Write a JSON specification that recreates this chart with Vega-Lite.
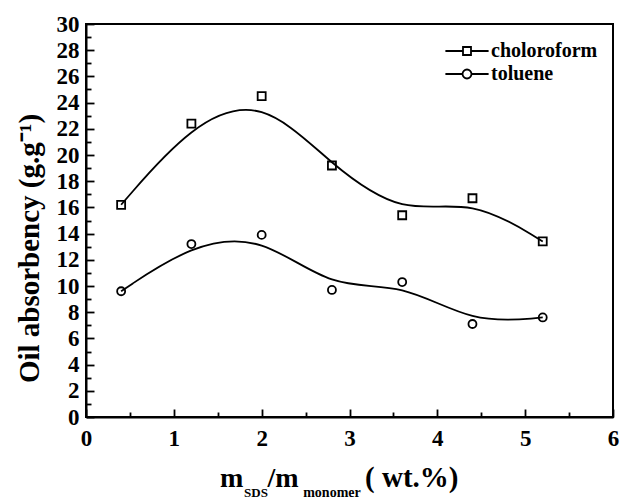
{
  "$schema": "https://vega.github.io/schema/vega-lite/v6.json",
  "width": 527,
  "height": 393,
  "autosize": "none",
  "padding": {"left": 86, "top": 24, "right": 7, "bottom": 83},
  "background": "white",
  "config": {
    "view": {"stroke": "black", "strokeWidth": 2},
    "font": "Liberation Serif",
    "axis": {
      "grid": false,
      "domainColor": "black",
      "domainWidth": 2,
      "tickColor": "black",
      "tickWidth": 1.8,
      "labelFont": "Liberation Serif",
      "labelFontWeight": "bold",
      "labelFontSize": 23,
      "labelColor": "black",
      "labelFlush": false,
      "titleFont": "Liberation Serif",
      "titleFontWeight": "bold",
      "titleColor": "black"
    }
  },
  "datasets": {
    "oil": [
      {"x": 0.4, "y": 16.2, "solvent": "choloroform"},
      {"x": 1.2, "y": 22.4, "solvent": "choloroform"},
      {"x": 2.0, "y": 24.5, "solvent": "choloroform"},
      {"x": 2.8, "y": 19.2, "solvent": "choloroform"},
      {"x": 3.6, "y": 15.4, "solvent": "choloroform"},
      {"x": 4.4, "y": 16.7, "solvent": "choloroform"},
      {"x": 5.2, "y": 13.4, "solvent": "choloroform"},
      {"x": 0.4, "y": 9.6, "solvent": "toluene"},
      {"x": 1.2, "y": 13.2, "solvent": "toluene"},
      {"x": 2.0, "y": 13.9, "solvent": "toluene"},
      {"x": 2.8, "y": 9.7, "solvent": "toluene"},
      {"x": 3.6, "y": 10.3, "solvent": "toluene"},
      {"x": 4.4, "y": 7.1, "solvent": "toluene"},
      {"x": 5.2, "y": 7.6, "solvent": "toluene"}
    ]
  },
  "layer": [
    {
      "data": {"name": "oil"},
      "mark": {"type": "line", "interpolate": "basis", "color": "black", "strokeWidth": 1.8},
      "encoding": {
        "x": {"field": "x", "type": "quantitative", "scale": {"domain": [0, 6], "nice": false},
          "axis": {"title": null, "values": [0, 0.5, 1, 1.5, 2, 2.5, 3, 3.5, 4, 4.5, 5, 5.5, 6], "labelExpr": "datum.value % 1 === 0 ? format(datum.value, 'd') : ''", "tickSize": {"condition": {"test": "datum.value % 1 === 0", "value": -8}, "value": -5}, "labelPadding": 18}},
        "y": {"field": "y", "type": "quantitative", "scale": {"domain": [0, 30], "nice": false},
          "axis": {"title": "Oil absorbency (g.g⁻¹)", "titleFontSize": 29, "titleX": -48, "titleY": 224, "titleBaseline": "alphabetic", "titleAngle": 270, "values": [0, 1, 2, 3, 4, 5, 6, 7, 8, 9, 10, 11, 12, 13, 14, 15, 16, 17, 18, 19, 20, 21, 22, 23, 24, 25, 26, 27, 28, 29, 30], "labelExpr": "datum.value % 2 === 0 ? format(datum.value, 'd') : ''", "tickSize": {"condition": {"test": "datum.value % 2 === 0", "value": -8}, "value": -5}, "labelPadding": 15}},
        "detail": {"field": "solvent"}
      }
    },
    {
      "data": {"name": "oil"},
      "mark": {"type": "point", "filled": false, "color": "black", "size": 64, "strokeWidth": 1.8, "opacity": 1},
      "encoding": {
        "x": {"field": "x", "type": "quantitative", "scale": {"domain": [0, 6], "nice": false},
          "axis": {"title": null, "values": [0, 0.5, 1, 1.5, 2, 2.5, 3, 3.5, 4, 4.5, 5, 5.5, 6], "labelExpr": "datum.value % 1 === 0 ? format(datum.value, 'd') : ''", "tickSize": {"condition": {"test": "datum.value % 1 === 0", "value": -8}, "value": -5}, "labelPadding": 18}},
        "y": {"field": "y", "type": "quantitative", "scale": {"domain": [0, 30], "nice": false},
          "axis": {"title": "Oil absorbency (g.g⁻¹)", "titleFontSize": 29, "titleX": -48, "titleY": 224, "titleBaseline": "alphabetic", "titleAngle": 270, "values": [0, 1, 2, 3, 4, 5, 6, 7, 8, 9, 10, 11, 12, 13, 14, 15, 16, 17, 18, 19, 20, 21, 22, 23, 24, 25, 26, 27, 28, 29, 30], "labelExpr": "datum.value % 2 === 0 ? format(datum.value, 'd') : ''", "tickSize": {"condition": {"test": "datum.value % 2 === 0", "value": -8}, "value": -5}, "labelPadding": 15}},
        "shape": {
          "field": "solvent",
          "type": "nominal",
          "scale": {"domain": ["choloroform", "toluene"], "range": ["square", "circle"]},
          "legend": null
        }
      }
    },
    {
      "data": {"name": "oil"},
      "mark": {"type": "point", "filled": false, "color": "black", "size": 256, "strokeWidth": 1.8, "opacity": 0},
      "encoding": {
        "x": {"field": "x", "type": "quantitative", "scale": {"domain": [0, 6], "nice": false},
          "axis": {"title": null, "values": [0, 0.5, 1, 1.5, 2, 2.5, 3, 3.5, 4, 4.5, 5, 5.5, 6], "labelExpr": "datum.value % 1 === 0 ? format(datum.value, 'd') : ''", "tickSize": {"condition": {"test": "datum.value % 1 === 0", "value": -8}, "value": -5}, "labelPadding": 18}},
        "y": {"field": "y", "type": "quantitative", "scale": {"domain": [0, 30], "nice": false},
          "axis": {"title": "Oil absorbency (g.g⁻¹)", "titleFontSize": 29, "titleX": -48, "titleY": 224, "titleBaseline": "alphabetic", "titleAngle": 270, "values": [0, 1, 2, 3, 4, 5, 6, 7, 8, 9, 10, 11, 12, 13, 14, 15, 16, 17, 18, 19, 20, 21, 22, 23, 24, 25, 26, 27, 28, 29, 30], "labelExpr": "datum.value % 2 === 0 ? format(datum.value, 'd') : ''", "tickSize": {"condition": {"test": "datum.value % 2 === 0", "value": -8}, "value": -5}, "labelPadding": 15}},
        "shape": {
          "field": "solvent",
          "type": "nominal",
          "scale": {
            "domain": ["choloroform", "toluene"],
            "range": [
              "M-2.7,0H-0.5M0.5,0H2.7M-0.5,-0.5H0.5V0.5H-0.5Z",
              "M-2.7,0H-0.56M0.56,0H2.7M-0.56,0A0.56,0.56,0,1,1,0.56,0A0.56,0.56,0,1,1,-0.56,0Z"
            ]
          },
          "legend": {
            "title": null,
            "orient": "none",
            "legendX": 371,
            "legendY": 17,
            "padding": 0,
            "rowPadding": 3,
            "labelOffset": 14,
            "symbolSize": 256,
            "symbolOpacity": 1,
            "symbolStrokeColor": "black",
            "symbolStrokeWidth": 1.8,
            "symbolFillColor": "white",
            "labelFont": "Liberation Serif",
            "labelFontWeight": "bold",
            "labelFontSize": 20,
            "labelColor": "black"
          }
        }
      }
    },
    {
      "data": {"values": [{"label": "m"}]},
      "mark": {"type": "text", "font": "Liberation Serif", "fontWeight": "bold", "fontSize": 28, "align": "left", "baseline": "alphabetic", "dy": 70, "color": "black"},
      "encoding": {
        "x": {"datum": 1.526, "type": "quantitative", "scale": {"domain": [0, 6], "nice": false},
          "axis": {"title": null, "values": [0, 0.5, 1, 1.5, 2, 2.5, 3, 3.5, 4, 4.5, 5, 5.5, 6], "labelExpr": "datum.value % 1 === 0 ? format(datum.value, 'd') : ''", "tickSize": {"condition": {"test": "datum.value % 1 === 0", "value": -8}, "value": -5}, "labelPadding": 18}},
        "y": {"datum": 0, "type": "quantitative", "scale": {"domain": [0, 30], "nice": false},
          "axis": {"title": "Oil absorbency (g.g⁻¹)", "titleFontSize": 29, "titleX": -48, "titleY": 224, "titleBaseline": "alphabetic", "titleAngle": 270, "values": [0, 1, 2, 3, 4, 5, 6, 7, 8, 9, 10, 11, 12, 13, 14, 15, 16, 17, 18, 19, 20, 21, 22, 23, 24, 25, 26, 27, 28, 29, 30], "labelExpr": "datum.value % 2 === 0 ? format(datum.value, 'd') : ''", "tickSize": {"condition": {"test": "datum.value % 2 === 0", "value": -8}, "value": -5}, "labelPadding": 15}},
        "text": {"field": "label"}
      }
    },
    {
      "data": {"values": [{"label": "SDS"}]},
      "mark": {"type": "text", "font": "Liberation Serif", "fontWeight": "bold", "fontSize": 13, "align": "left", "baseline": "alphabetic", "dy": 80, "color": "black"},
      "encoding": {
        "x": {"datum": 1.8, "type": "quantitative", "scale": {"domain": [0, 6], "nice": false},
          "axis": {"title": null, "values": [0, 0.5, 1, 1.5, 2, 2.5, 3, 3.5, 4, 4.5, 5, 5.5, 6], "labelExpr": "datum.value % 1 === 0 ? format(datum.value, 'd') : ''", "tickSize": {"condition": {"test": "datum.value % 1 === 0", "value": -8}, "value": -5}, "labelPadding": 18}},
        "y": {"datum": 0, "type": "quantitative", "scale": {"domain": [0, 30], "nice": false},
          "axis": {"title": "Oil absorbency (g.g⁻¹)", "titleFontSize": 29, "titleX": -48, "titleY": 224, "titleBaseline": "alphabetic", "titleAngle": 270, "values": [0, 1, 2, 3, 4, 5, 6, 7, 8, 9, 10, 11, 12, 13, 14, 15, 16, 17, 18, 19, 20, 21, 22, 23, 24, 25, 26, 27, 28, 29, 30], "labelExpr": "datum.value % 2 === 0 ? format(datum.value, 'd') : ''", "tickSize": {"condition": {"test": "datum.value % 2 === 0", "value": -8}, "value": -5}, "labelPadding": 15}},
        "text": {"field": "label"}
      }
    },
    {
      "data": {"values": [{"label": "/m"}]},
      "mark": {"type": "text", "font": "Liberation Serif", "fontWeight": "bold", "fontSize": 28, "align": "left", "baseline": "alphabetic", "dy": 70, "color": "black"},
      "encoding": {
        "x": {"datum": 2.065, "type": "quantitative", "scale": {"domain": [0, 6], "nice": false},
          "axis": {"title": null, "values": [0, 0.5, 1, 1.5, 2, 2.5, 3, 3.5, 4, 4.5, 5, 5.5, 6], "labelExpr": "datum.value % 1 === 0 ? format(datum.value, 'd') : ''", "tickSize": {"condition": {"test": "datum.value % 1 === 0", "value": -8}, "value": -5}, "labelPadding": 18}},
        "y": {"datum": 0, "type": "quantitative", "scale": {"domain": [0, 30], "nice": false},
          "axis": {"title": "Oil absorbency (g.g⁻¹)", "titleFontSize": 29, "titleX": -48, "titleY": 224, "titleBaseline": "alphabetic", "titleAngle": 270, "values": [0, 1, 2, 3, 4, 5, 6, 7, 8, 9, 10, 11, 12, 13, 14, 15, 16, 17, 18, 19, 20, 21, 22, 23, 24, 25, 26, 27, 28, 29, 30], "labelExpr": "datum.value % 2 === 0 ? format(datum.value, 'd') : ''", "tickSize": {"condition": {"test": "datum.value % 2 === 0", "value": -8}, "value": -5}, "labelPadding": 15}},
        "text": {"field": "label"}
      }
    },
    {
      "data": {"values": [{"label": "monomer"}]},
      "mark": {"type": "text", "font": "Liberation Serif", "fontWeight": "bold", "fontSize": 14, "align": "left", "baseline": "alphabetic", "dy": 80, "color": "black"},
      "encoding": {
        "x": {"datum": 2.473, "type": "quantitative", "scale": {"domain": [0, 6], "nice": false},
          "axis": {"title": null, "values": [0, 0.5, 1, 1.5, 2, 2.5, 3, 3.5, 4, 4.5, 5, 5.5, 6], "labelExpr": "datum.value % 1 === 0 ? format(datum.value, 'd') : ''", "tickSize": {"condition": {"test": "datum.value % 1 === 0", "value": -8}, "value": -5}, "labelPadding": 18}},
        "y": {"datum": 0, "type": "quantitative", "scale": {"domain": [0, 30], "nice": false},
          "axis": {"title": "Oil absorbency (g.g⁻¹)", "titleFontSize": 29, "titleX": -48, "titleY": 224, "titleBaseline": "alphabetic", "titleAngle": 270, "values": [0, 1, 2, 3, 4, 5, 6, 7, 8, 9, 10, 11, 12, 13, 14, 15, 16, 17, 18, 19, 20, 21, 22, 23, 24, 25, 26, 27, 28, 29, 30], "labelExpr": "datum.value % 2 === 0 ? format(datum.value, 'd') : ''", "tickSize": {"condition": {"test": "datum.value % 2 === 0", "value": -8}, "value": -5}, "labelPadding": 15}},
        "text": {"field": "label"}
      }
    },
    {
      "data": {"values": [{"label": "( wt.%)"}]},
      "mark": {"type": "text", "font": "Liberation Serif", "fontWeight": "bold", "fontSize": 29, "align": "left", "baseline": "alphabetic", "dy": 70, "color": "black"},
      "encoding": {
        "x": {"datum": 3.177, "type": "quantitative", "scale": {"domain": [0, 6], "nice": false},
          "axis": {"title": null, "values": [0, 0.5, 1, 1.5, 2, 2.5, 3, 3.5, 4, 4.5, 5, 5.5, 6], "labelExpr": "datum.value % 1 === 0 ? format(datum.value, 'd') : ''", "tickSize": {"condition": {"test": "datum.value % 1 === 0", "value": -8}, "value": -5}, "labelPadding": 18}},
        "y": {"datum": 0, "type": "quantitative", "scale": {"domain": [0, 30], "nice": false},
          "axis": {"title": "Oil absorbency (g.g⁻¹)", "titleFontSize": 29, "titleX": -48, "titleY": 224, "titleBaseline": "alphabetic", "titleAngle": 270, "values": [0, 1, 2, 3, 4, 5, 6, 7, 8, 9, 10, 11, 12, 13, 14, 15, 16, 17, 18, 19, 20, 21, 22, 23, 24, 25, 26, 27, 28, 29, 30], "labelExpr": "datum.value % 2 === 0 ? format(datum.value, 'd') : ''", "tickSize": {"condition": {"test": "datum.value % 2 === 0", "value": -8}, "value": -5}, "labelPadding": 15}},
        "text": {"field": "label"}
      }
    }
  ],
  "resolve": {"scale": {"shape": "independent"}}
}
